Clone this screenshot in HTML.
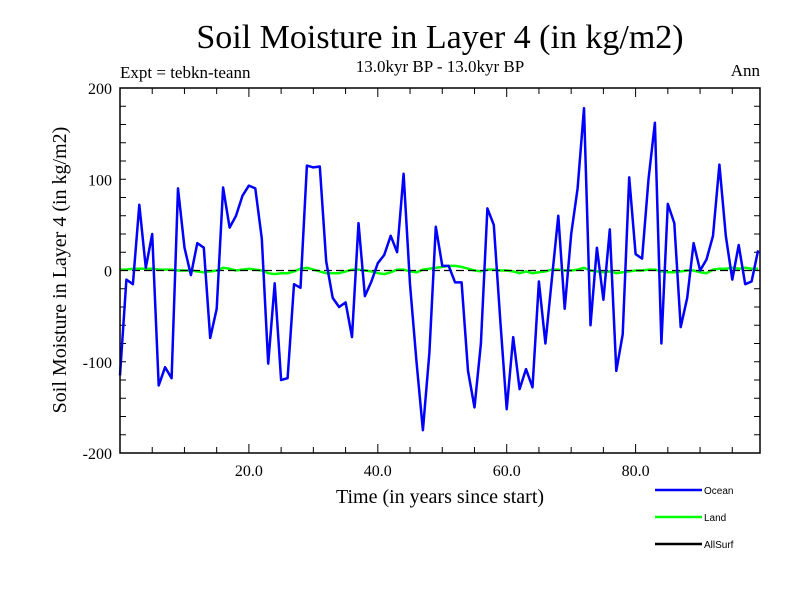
<!DOCTYPE html>
<html><head><meta charset="utf-8"><style>
body{margin:0;background:#fff;}
svg text{font-family:"Liberation Serif",serif;}
</style></head><body>
<svg id="chart" width="800" height="600" xmlns="http://www.w3.org/2000/svg">
<rect width="800" height="600" fill="#fff"/>
<text x="440" y="48" font-size="34" text-anchor="middle">Soil Moisture in Layer 4 (in kg/m2)</text>
<text x="440" y="72" font-size="17" text-anchor="middle">13.0kyr BP - 13.0kyr BP</text>
<text x="120" y="78" font-size="17">Expt = tebkn-teann</text>
<text x="760" y="76" font-size="17" text-anchor="end">Ann</text>
<text transform="translate(66,270) rotate(-90)" font-size="20" text-anchor="middle">Soil Moisture in Layer 4 (in kg/m2)</text>
<text x="440" y="503" font-size="20" text-anchor="middle">Time (in years since start)</text>
<g id="axes"></g>
<g id="series"></g>
<rect x="120" y="88" width="640" height="365" fill="none" stroke="#000" stroke-width="1.5"/>
<g font-family="Liberation Sans,sans-serif">
<line x1="655" y1="490" x2="702" y2="490" stroke="#0000ff" stroke-width="2.5"/>
<text x="704" y="494" font-size="10" style="font-family:'Liberation Sans',sans-serif">Ocean</text>
<line x1="655" y1="517" x2="702" y2="517" stroke="#00ff00" stroke-width="2.5"/>
<text x="704" y="521" font-size="10" style="font-family:'Liberation Sans',sans-serif">Land</text>
<line x1="655" y1="544" x2="702" y2="544" stroke="#000" stroke-width="2.5"/>
<text x="704" y="548" font-size="10" style="font-family:'Liberation Sans',sans-serif">AllSurf</text>
</g>
</svg>
<script>
const yTickValues=[200,100,0,-100,-200];
const yTickLabels=["200","100","0","-100","-200"];
const xTickValues=[20,40,60,80];
const xTickLabels=["20.0","40.0","60.0","80.0"];
const ocean=[-115,-10,-15,72,3,40,-126,-106,-118,90,25,-5,30,25,-74,-42,91,47,60,82,93,90,35,-102,-14,-120,-118,-15,-19,115,113,114,10,-30,-40,-35,-73,52,-28,-12,8,17,38,20,106,-15,-100,-175,-90,48,5,5,-13,-13,-110,-150,-80,68,50,-55,-152,-73,-130,-108,-128,-12,-80,-10,60,-42,40,90,178,-60,25,-32,45,-110,-70,102,18,13,100,162,-80,73,52,-62,-30,30,0,12,38,116,38,-10,28,-15,-12,22];
const land=[1,1,2,2,2,2,1,1,1,0,0,0,-1,-2,-1,0,3,2,0,1,2,1,0,-3,-4,-3,-3,-1,2,3,1,-1,-3,-3,-3,-1,1,1,0,-1,-3,-4,-2,1,1,-1,-2,1,2,3,4,5,5,4,2,0,-1,1,1,0,0,-1,-3,-1,-3,-2,-1,1,1,0,0,1,3,0,-1,-2,-1,-3,-2,-1,0,0,1,1,-1,-2,-2,-1,0,0,-2,-3,1,2,2,3,2,3,2,2];
const allSurf=[0,0];
const X0=120,X1=760,Y0=453,Y1=88;
const xMin=0,xMax=99.3,yMin=-200,yMax=200;
function xs(t){return X0+(t-xMin)/(xMax-xMin)*(X1-X0);}
function ys(v){return Y0-(v-yMin)/(yMax-yMin)*(Y0-Y1);}
const NS="http://www.w3.org/2000/svg";
const axes=document.getElementById('axes');
const series=document.getElementById('series');
function mk(tag,attrs,parent){const e=document.createElementNS(NS,tag);for(const k in attrs)e.setAttribute(k,attrs[k]);parent.appendChild(e);return e;}
// minor y ticks every 20
for(let v=yMin;v<=yMax;v+=20){
 const t1=mk('line',{x1:X0,x2:X0+6,y1:ys(v),y2:ys(v),stroke:'#000','stroke-width':1},axes);
 
 
 const t2=mk('line',{x1:X1-6,x2:X1,y1:ys(v),y2:ys(v),stroke:'#000','stroke-width':1},axes);
 
 
}
yTickValues.forEach((v,i)=>{
 const t=mk('text',{x:X0-8,y:ys(v)+6,'font-size':16,'text-anchor':'end'},axes);
 t.textContent=yTickLabels[i];
 
 
});
for(let v=5;v<xMax;v+=5){
 const major=v%20===0;
 const L=major?9:6;
 const a=mk('line',{x1:xs(v),x2:xs(v),y1:Y0,y2:Y0-L,stroke:'#000','stroke-width':1},axes);
 
 
 const b=mk('line',{x1:xs(v),x2:xs(v),y1:Y1,y2:Y1+L,stroke:'#000','stroke-width':1},axes);
 
 
}
xTickValues.forEach((v,i)=>{
 const t=mk('text',{x:xs(v),y:Y0+23,'font-size':16,'text-anchor':'middle'},axes);
 t.textContent=xTickLabels[i];
 
 
});
function pts(arr){return arr.map((v,i)=>xs(i).toFixed(1)+','+ys(v).toFixed(1)).join(' ');}
const lLand=mk('polyline',{points:pts(land),fill:'none',stroke:'#00ff00','stroke-width':2.5},series);


const lAll=mk('line',{x1:X0,x2:X1,y1:ys(allSurf[0]),y2:ys(allSurf[1]),stroke:'#000','stroke-width':1.3,'stroke-dasharray':'8,4'},series);


const lOcean=mk('polyline',{points:pts(ocean),fill:'none',stroke:'#0000ff','stroke-width':2.5,'stroke-linejoin':'round'},series);


</script>
</body></html>
